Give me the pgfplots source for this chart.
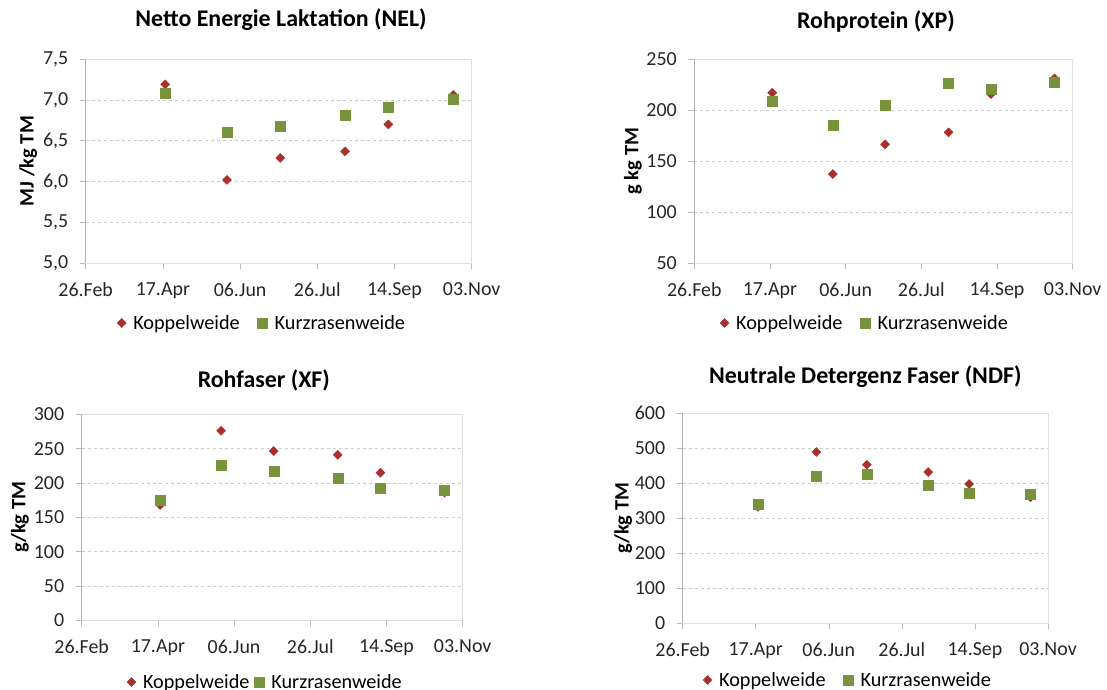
\documentclass[border=0pt]{standalone}
\usepackage{fontspec}
\setmainfont{Carlito}
\usepackage{pgfplots}
\pgfplotsset{compat=1.18}
\definecolor{kop}{HTML}{A8312E}
\definecolor{kur}{HTML}{77933C}
\pgfplotsset{
 panel/.style={
  scale only axis, xmin=0, xmax=250,
  xtick={0,50,100,150,200,250},
  xticklabels={26.Feb,17.Apr,06.Jun,26.Jul,14.Sep,03.Nov},
  tick align=outside, xtick pos=lower, ytick pos=left,
  major tick length=6bp,
  tick style={gray!55, line width=0.6pt},
  axis line style={gray!25, line width=0.8pt},
  ymajorgrids, grid style={gray!40, dashed, line width=0.5pt},
  /pgf/number format/assume math mode=true,
  ticklabel style={font=\fontsize{20}{23}\selectfont, text=black!85},
  xticklabel style={yshift=-10bp},
  yticklabel style={xshift=-8bp},
  ylabel style={font=\bfseries\fontsize{20.5}{23}\selectfont, anchor=center},
  title style={font=\bfseries\fontsize{24}{27}\selectfont, anchor=base, yshift=0pt},
  legend style={draw=none, fill=none, legend columns=2, anchor=center,
    font=\fontsize{20.3}{23}\selectfont,
    /tikz/every odd column/.append style={column sep=5bp},
    /tikz/every even column/.append style={column sep=16bp}},
  legend cell align=left,
  clip=false,
 },
 kop/.style={only marks, mark=square*, mark size=3.2bp, mark options={rotate=45, fill=kop, draw=kop}},
 kur/.style={only marks, mark=square*, mark size=5bp, mark options={fill=kur, draw=kur}},
}
\begin{document}
\begin{tikzpicture}
\useasboundingbox (0,0) rectangle (1107bp,690bp);
% Panel 1: NEL
\begin{axis}[panel, at={(85.7bp,426.7bp)}, anchor=south west, width=386bp, height=204.3bp,
  ymin=5, ymax=7.5, ytick={5,5.5,6,6.5,7,7.5},
  yticklabel style={/pgf/number format/.cd, fixed, fixed zerofill, precision=1, use comma},
  ylabel={MJ /kg TM}, ylabel style={at={(axis description cs:-0.149,0.5)}},
  title={Netto Energie Laktation (NEL)}, title style={at={(axis description cs:0.506,1.132)}},
  legend style={at={(0.457,-0.292)}}]
\draw[gray!60, line width=0.8pt] (rel axis cs:0,0) -- (rel axis cs:0,1);
\addplot[kop] coordinates {(51.5,7.19) (91.5,6.02) (126,6.29) (168,6.37) (196,6.70) (238,7.06)};
\addplot[kur] coordinates {(51.5,7.08) (91.5,6.60) (126,6.68) (168,6.81) (196,6.91) (238,7.01)};
\legend{Koppelweide, Kurzrasenweide}
\end{axis}
% Panel 2: XP
\begin{axis}[panel, at={(694.3bp,426.7bp)}, anchor=south west, width=378.4bp, height=204.3bp,
  ymin=50, ymax=250, ytick={50,100,150,200,250},
  ylabel={g kg TM}, ylabel style={at={(axis description cs:-0.162,0.5)}},
  title={Rohprotein (XP)}, title style={at={(axis description cs:0.48,1.122)}},
  legend style={at={(0.451,-0.292)}}]
\draw[gray!60, line width=0.8pt] (rel axis cs:0,0) -- (rel axis cs:0,1);
\addplot[kop] coordinates {(51.5,217) (91.5,137.4) (126,166.5) (168,178.2) (196,215.7) (238,231)};
\addplot[kur] coordinates {(51.5,209) (91.5,185) (126,204.5) (168,226) (196,220) (238,227.5)};
\legend{Koppelweide, Kurzrasenweide}
\end{axis}
% Panel 3: XF
\begin{axis}[panel, at={(81.7bp,69.7bp)}, anchor=south west, width=381bp, height=206bp,
  ymin=0, ymax=300, ytick={0,50,100,150,200,250,300},
  ylabel={g/kg TM}, ylabel style={at={(axis description cs:-0.162,0.5)}},
  title={Rohfaser (XF)}, title style={at={(axis description cs:0.478,1.102)}},
  legend style={at={(0.482,-0.30)}, /tikz/every even column/.append style={column sep=3bp}}]
\draw[gray!60, line width=0.8pt] (rel axis cs:0,0) -- (rel axis cs:0,1);
\addplot[kop] coordinates {(51.5,168) (91.5,276) (126,246.5) (168,241) (196,215) (238,186)};
\addplot[kur] coordinates {(51.5,175) (91.5,225.7) (126,217) (168,207.3) (196,192.7) (238,189.3)};
\legend{Koppelweide, Kurzrasenweide}
\end{axis}
% Panel 4: NDF
\begin{axis}[panel, at={(682.7bp,66.7bp)}, anchor=south west, width=365.3bp, height=210bp,
  ymin=0, ymax=600, ytick={0,100,200,300,400,500,600},
  ylabel={g/kg TM}, ylabel style={at={(axis description cs:-0.163,0.5)}},
  title={Neutrale Detergenz Faser (NDF)}, title style={at={(axis description cs:0.5,1.114)}},
  legend style={at={(0.4525,-0.27)}}]
\draw[gray!60, line width=0.8pt] (rel axis cs:0,0) -- (rel axis cs:0,1);
\addplot[kop] coordinates {(51.5,333) (91.5,489.5) (126,453) (168,432) (196,398) (238,360)};
\addplot[kur] coordinates {(51.5,341) (91.5,420) (126,425.7) (168,395) (196,373) (238,368.6)};
\legend{Koppelweide, Kurzrasenweide}
\end{axis}
\end{tikzpicture}
\end{document}
